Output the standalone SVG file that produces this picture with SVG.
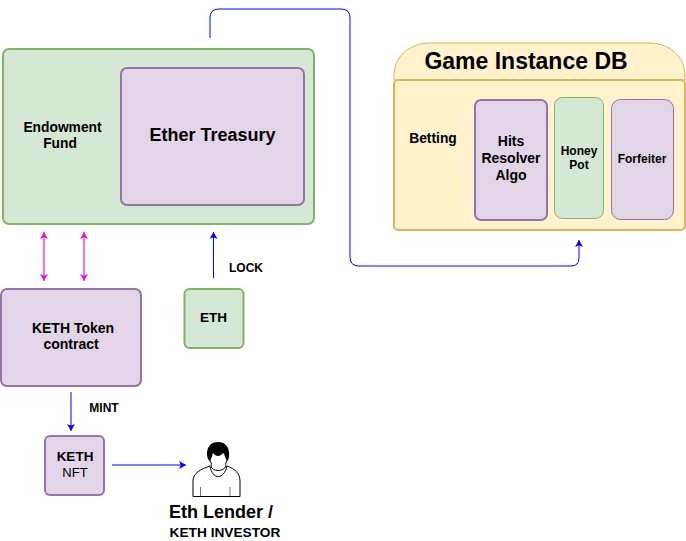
<svg xmlns="http://www.w3.org/2000/svg" width="686" height="541" viewBox="0 0 686 541">
<style>
text{font-family:"Liberation Sans",Arial,sans-serif;font-weight:bold;fill:#000;text-anchor:middle}
.g{fill:#d5e8d4;stroke:#82b366}
.p{fill:#e1d5e7;stroke:#9673a6}
.y{fill:#fff2cc;stroke:#d6b656}
.w2{stroke-width:2}
.w1{stroke-width:1}
.blue{fill:none;stroke:#0000ff;stroke-width:1}
.mag{fill:none;stroke:#e020e0;stroke-width:1.2;marker-start:url(#mh);marker-end:url(#mh)}
</style>
<defs>
<marker id="bh" markerUnits="userSpaceOnUse" markerWidth="9" markerHeight="9" refX="7" refY="4" orient="auto"><path d="M0 0L7 4L0 8L1.800 4Z" fill="#0000ff"/></marker>
<marker id="mh" markerUnits="userSpaceOnUse" markerWidth="9" markerHeight="9" refX="7" refY="4" orient="auto-start-reverse"><path d="M0 0L7 4L0 8L1.800 4Z" fill="#e010e0"/></marker>
</defs>
<rect width="686" height="541" fill="#fff"/>
<g id="connectors">
<path class="blue" d="M210 38V18Q210 9 219 9H341Q350 9 350 18V257Q350 266 359 266H571Q579 266 579 258V240" marker-end="url(#bh)"/>
<path class="mag" d="M44 232V281"/>
<path class="mag" d="M84 232V281"/>
<path class="blue" d="M213.500 278V232" marker-end="url(#bh)"/>
<path class="blue" d="M71 392V431" marker-end="url(#bh)"/>
<path class="blue" d="M112 465H186" marker-end="url(#bh)"/>
</g>
<g id="endowment">
<rect class="g w2" x="3" y="49" width="311" height="175" rx="6"/>
<text x="62.500" y="132" font-size="13.800">Endowment</text>
<text x="60" y="148" font-size="13.800">Fund</text>
</g>
<g id="treasury">
<rect class="p w2" x="121" y="68" width="183" height="137" rx="6"/>
<text x="212.500" y="141" font-size="18">Ether Treasury</text>
</g>
<g id="game-db">
<path class="y w1" d="M394 80V76C394 56 410 43 430 43H649C669 43 685 56 685 76V80Z"/>
<rect class="y w2" x="394" y="80" width="291" height="150" rx="4"/>
<text x="526" y="69" font-size="23">Game Instance DB</text>
<text x="433" y="143" font-size="13.800">Betting</text>
</g>
<g id="hits">
<rect class="p w2" x="475" y="100" width="72" height="120" rx="6"/>
<text x="511" y="146" font-size="14">Hits</text>
<text x="511" y="163" font-size="14">Resolver</text>
<text x="511" y="180" font-size="14">Algo</text>
</g>
<g id="honey">
<rect class="g w1" x="554.500" y="97.500" width="49" height="121" rx="8"/>
<text x="579" y="155" font-size="12">Honey</text>
<text x="579" y="169" font-size="12">Pot</text>
</g>
<g id="forfeiter">
<rect class="p w1" x="611.500" y="99.500" width="62" height="120" rx="9"/>
<text x="642" y="163" font-size="12">Forfeiter</text>
</g>
<g id="keth-contract">
<rect class="p w2" x="1" y="289" width="140" height="97" rx="6"/>
<text x="73" y="333" font-size="14">KETH Token</text>
<text x="71" y="349" font-size="14">contract</text>
</g>
<g id="eth">
<rect class="g w2" x="184.500" y="289" width="59" height="59" rx="5"/>
<text x="213.500" y="322" font-size="13.500">ETH</text>
</g>
<g id="keth-nft">
<rect class="p w2" x="45" y="436" width="59" height="59" rx="5"/>
<text x="75" y="461" font-size="13.500">KETH</text>
<text x="75" y="477" font-size="13" style="font-weight:normal">NFT</text>
</g>
<g id="investor">
<path d="M193 496.500V481C193 473 201 469 210 466C212 480 224 480 227 466C235 469 240 473 240 481V496.500Z" fill="#fff" stroke="#000"/>
<path d="M200.500 487V496M230 487V496" stroke="#777" fill="none"/>
<path d="M209 459C211 462 212 464 211 466C212 472 224 472 226 466C225 464 226 462 228 459" fill="#fff" stroke="#000"/>
<path d="M209.500 461C205 456 206 442 218 442C230 442 231 456 227.500 461C225 459 225 454 223 453C220 457 216 457 213 453C212 455 212 459 209.500 461Z" fill="#000"/>
<text x="221" y="518" font-size="18">Eth Lender /</text>
<text x="225" y="537" font-size="13.700">KETH INVESTOR</text>
</g>
<g id="labels">
<text x="246" y="272" font-size="12">LOCK</text>
<text x="104" y="412" font-size="12">MINT</text>
</g>
</svg>
